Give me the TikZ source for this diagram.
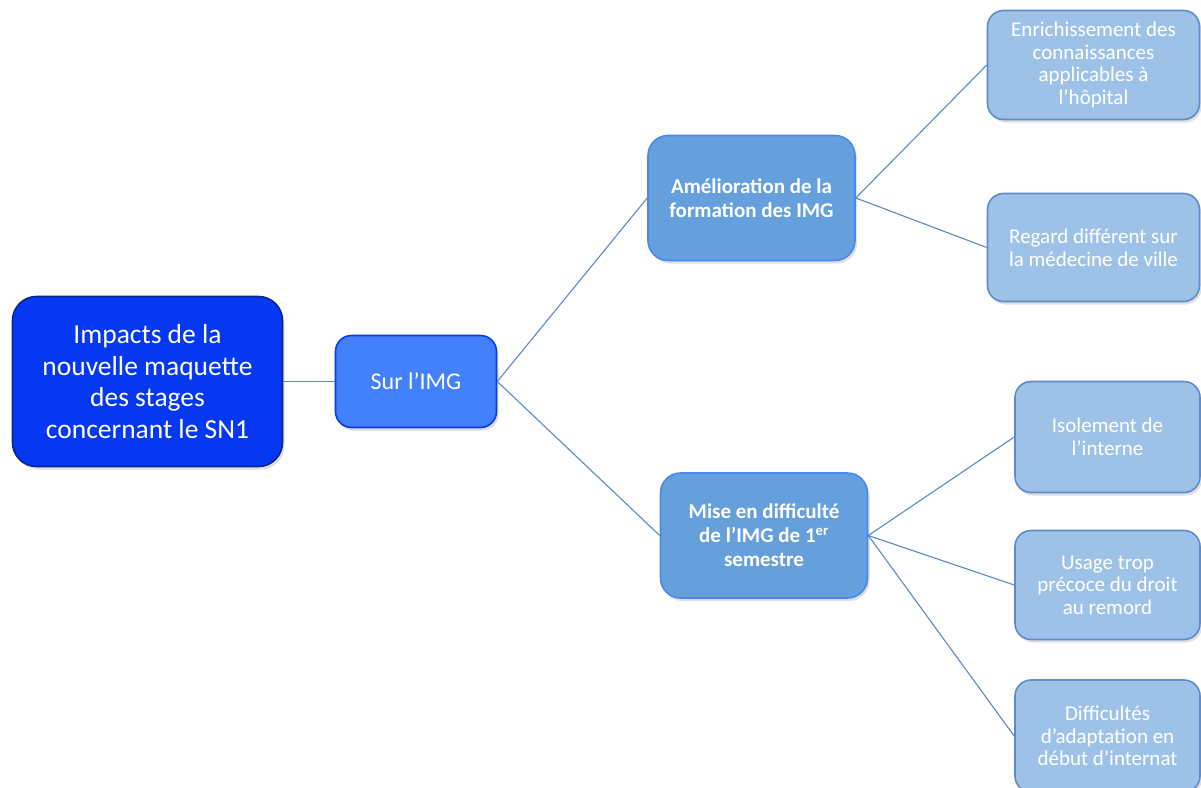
\documentclass[tikz,border=0pt]{standalone}
\usepackage{fontspec}
\setmainfont{Carlito}
\usetikzlibrary{shadows}
\definecolor{rootfill}{HTML}{0638F2}
\definecolor{rootdraw}{HTML}{0A2590}
\definecolor{surfill}{HTML}{4381FC}
\definecolor{surdraw}{HTML}{0A3AE8}
\definecolor{midfill}{HTML}{65A0DD}
\definecolor{middraw}{HTML}{4B87EE}
\definecolor{leaffill}{HTML}{9EC2E7}
\definecolor{leafdraw}{HTML}{5D8CC9}
\definecolor{edgecol}{HTML}{5A8AC4}
\tikzset{
  box/.style={rounded corners=20pt, align=center, text=white, inner sep=2pt,
    line width=1.6pt, drop shadow={opacity=0.25, shadow xshift=2pt, shadow yshift=-3pt}},
  rootbox/.style={box, fill=rootfill, draw=rootdraw, rounded corners=24pt,
    minimum width=270pt, minimum height=170pt, font=\fontsize{27.5}{31.7}\selectfont},
  surbox/.style={box, fill=surfill, draw=surdraw, rounded corners=16pt,
    minimum width=161pt, minimum height=92pt, font=\fontsize{24}{28}\selectfont},
  midbox/.style={box, fill=midfill, draw=middraw,
    minimum width=207pt, minimum height=125pt, font=\fontsize{21}{24}\selectfont\bfseries},
  leafbox/.style={box, fill=leaffill, draw=leafdraw, rounded corners=16pt,
    font=\fontsize{21}{22.6}\selectfont},
  link/.style={draw=edgecol, line width=1.1pt}
}
\begin{document}
\begin{tikzpicture}[x=1pt,y=-1pt]
\useasboundingbox (0,0) rectangle (1201,787);
\node[rootbox] (root) at (147.5,381.5) {Impacts de la\\nouvelle maquette\\des stages\\concernant le SN1};
\node[surbox] (sur) at (416,381.5) {Sur l’IMG};
\node[midbox] (ame) at (751.5,198) {Amélioration de la\\formation des IMG};
\node[midbox] (mise) at (764,535.5) {Mise en difficulté\\de l’IMG de 1\textsuperscript{er}\\semestre};
\node[leafbox, minimum width=212pt, minimum height=109pt] (enr) at (1093.5,65) {Enrichissement des\\connaissances\\applicables à\\l’hôpital};
\node[leafbox, minimum width=212pt, minimum height=108pt] (reg) at (1093.5,247.5) {Regard différent sur\\la médecine de ville};
\node[leafbox, minimum width=185pt, minimum height=111pt] (iso) at (1107.5,437) {Isolement de\\l’interne};
\node[leafbox, minimum width=185pt, minimum height=109pt] (usa) at (1107.5,585) {Usage trop\\précoce du droit\\au remord};
\node[leafbox, minimum width=185pt, minimum height=112pt] (dif) at (1107.5,736) {Difficultés\\d’adaptation en\\début d’internat};
\draw[link] (root.east) -- (sur.west);
\draw[link] (sur.east) -- (ame.west);
\draw[link] (sur.east) -- (mise.west);
\draw[link] (ame.east) -- (enr.west);
\draw[link] (ame.east) -- (reg.west);
\draw[link] (mise.east) -- (iso.west);
\draw[link] (mise.east) -- (usa.west);
\draw[link] (mise.east) -- (dif.west);
\end{tikzpicture}
\end{document}
